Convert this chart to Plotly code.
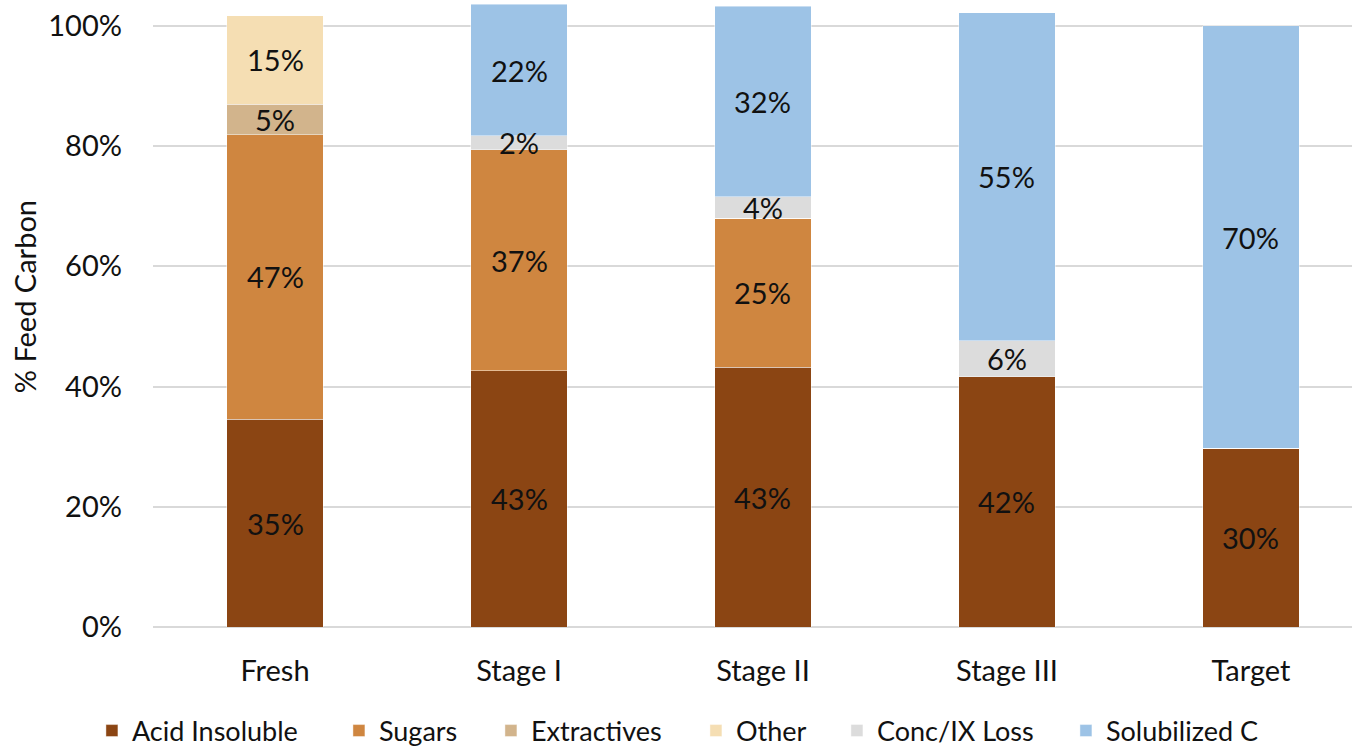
import plotly.graph_objects as go

# Stage categories along the x axis
stages = ["Fresh", "Stage I", "Stage II", "Stage III", "Target"]

# Carbon fate per stage, % of feed carbon (None = component not present)
acid_insoluble = [34.6, 42.6, 43.2, 41.6, 29.7]
sugars = [47.3, 36.8, 24.8, None, None]
extractives = [5.1, None, None, None, None]
other = [14.7, None, None, None, None]
conc_ix_loss = [None, 2.3, 3.6, 6.0, None]
solubilized_c = [None, 21.9, 31.7, 54.6, 70.3]

# name, values, colour, legend entry width (px)
series = [
    ("Acid Insoluble", acid_insoluble, "#8B4513", 202),
    ("Sugars", sugars, "#CF8640", 107),
    ("Extractives", extractives, "#D2B48C", 160),
    ("Other", other, "#F5DEB3", 96),
    ("Conc/IX Loss", conc_ix_loss, "#DCDCDC", 184),
    ("Solubilized C", solubilized_c, "#9DC3E6", 168),
]

y_ticks = [0, 20, 40, 60, 80, 100]
y_tick_text = ["0%", "20%", "40%", "60%", "80%", "100%"]

FONT = "Lato"
TXT = "#111111"
SIZE = 29

fig = go.Figure()
annotations = []
base = [0.0] * len(stages)

for name, vals, color, lw in series:
    fig.add_trace(go.Bar(
        name=name,
        x=stages,
        y=[v if v is not None else 0 for v in vals],
        marker=dict(color=color, line=dict(color="rgba(255,255,255,0.55)", width=0.8)),
        legendwidth=lw,
        hoverinfo="name+y",
    ))
    # value label centred in each stacked segment
    for i, v in enumerate(vals):
        if v is None:
            continue
        annotations.append(dict(
            x=stages[i], y=base[i] + v / 2, xref="x", yref="y",
            text=f"{v:.0f}%", showarrow=False,
            font=dict(family=FONT, size=SIZE, color=TXT),
        ))
        base[i] += v

# y-axis title
annotations.append(dict(
    x=-0.107, y=0.527, xref="paper", yref="paper",
    xanchor="center", yanchor="middle",
    text="% Feed Carbon", textangle=-90, showarrow=False,
    font=dict(family=FONT, size=SIZE, color=TXT),
))

fig.update_layout(
    barmode="stack",
    bargap=0.605,
    width=1352, height=747,
    margin=dict(l=153, r=0, t=0, b=120, autoexpand=False),
    paper_bgcolor="white",
    plot_bgcolor="white",
    font=dict(family=FONT, size=SIZE, color=TXT),
    annotations=annotations,
    legend=dict(
        orientation="h",
        xref="container", yref="container",
        x=0.068, xanchor="left",
        y=0.0214, yanchor="middle",
        font=dict(family=FONT, size=27, color=TXT),
        itemwidth=30,
        traceorder="normal",
    ),
    xaxis=dict(
        range=[-0.5, 4.414],
        showgrid=False,
        showline=False,
        ticks="",
        tickangle=0,
        tickfont=dict(family=FONT, size=SIZE, color=TXT),
        ticklabelstandoff=24,
    ),
    yaxis=dict(
        range=[0, 104.3],
        tickvals=y_ticks,
        ticktext=y_tick_text,
        showgrid=True,
        gridcolor="#D9D9D9",
        gridwidth=1.5,
        zeroline=True,
        zerolinecolor="#D9D9D9",
        zerolinewidth=1.5,
        ticks="",
        tickfont=dict(family=FONT, size=SIZE, color=TXT),
        ticklabelstandoff=30,
    ),
)

fig.write_html("out.html")
